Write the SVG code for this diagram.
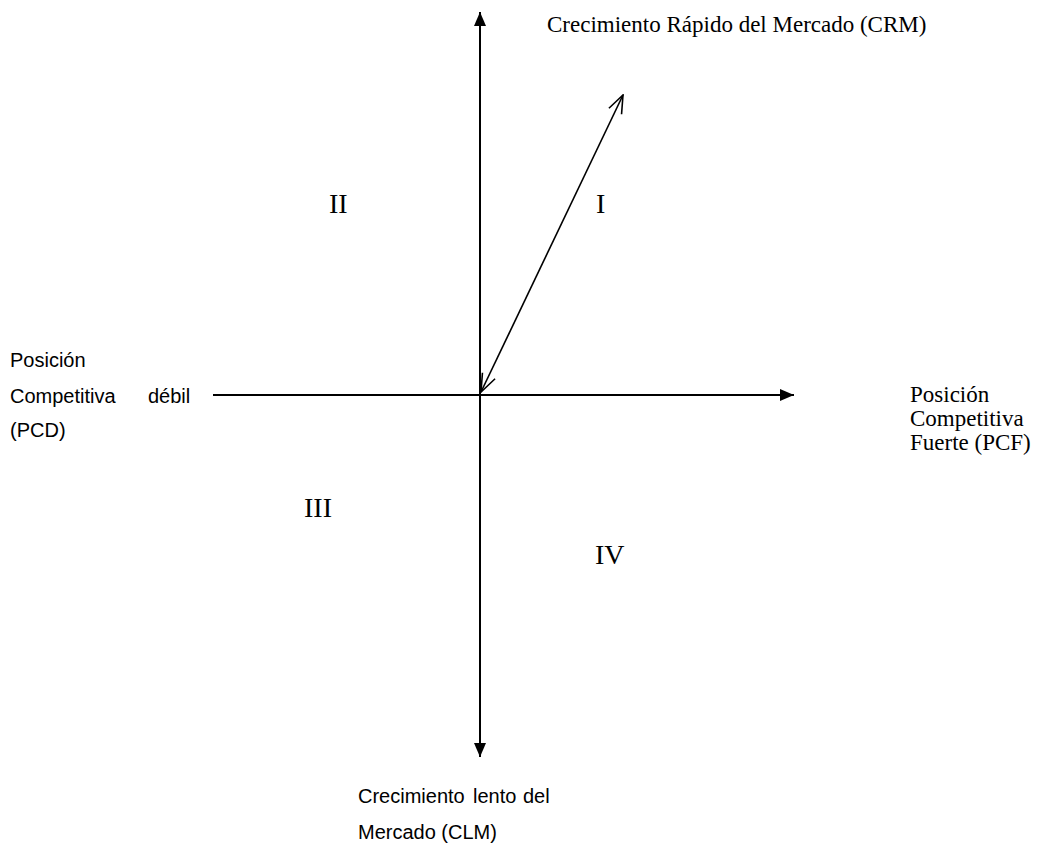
<svg xmlns="http://www.w3.org/2000/svg" width="1037" height="847" viewBox="0 0 1037 847">
<style>
.ax{stroke:#000;stroke-width:2;fill:none}
.dg{stroke:#000;stroke-width:1.6;fill:none}
.serif{font-family:"Liberation Serif","Times New Roman",serif;fill:#000}
.sans{font-family:"Liberation Sans",Arial,sans-serif;fill:#000;font-size:20px}
.num{font-size:28px}
.lab{font-size:23px}
</style>
<defs>
<marker id="solid" viewBox="0 0 14 12" refX="14" refY="6" markerWidth="14" markerHeight="12" markerUnits="userSpaceOnUse" orient="auto">
<path d="M0,0 L14,6 L0,12 Z" fill="#000"/>
</marker>
<marker id="open" viewBox="0 0 20 16" refX="19" refY="8" markerWidth="20" markerHeight="16" markerUnits="userSpaceOnUse" orient="auto-start-reverse">
<path d="M1,1 L19,8 L1,15" fill="none" stroke="#000" stroke-width="1.6"/>
</marker>
</defs>
<rect width="1037" height="847" fill="#fff"/>
<g id="connectors">
<line class="ax" x1="480" y1="395" x2="480" y2="12" marker-end="url(#solid)"/>
<line class="ax" x1="480" y1="395" x2="480" y2="757" marker-end="url(#solid)"/>
<line class="ax" x1="213" y1="395" x2="794" y2="395" marker-end="url(#solid)"/>
<line class="dg" x1="481" y1="392" x2="623" y2="95" marker-start="url(#open)" marker-end="url(#open)"/>
</g>
<g id="label-crm"><text class="serif lab" x="547" y="32">Crecimiento Rápido del Mercado (CRM)</text></g>
<g id="quad-II"><text class="serif num" x="329" y="213">II</text></g>
<g id="quad-I"><text class="serif num" x="596" y="213">I</text></g>
<g id="quad-III"><text class="serif num" x="304" y="517">III</text></g>
<g id="quad-IV"><text class="serif num" x="595" y="564">IV</text></g>
<g id="label-pcd">
<text class="sans" x="10" y="367">Posición</text>
<text class="sans" x="10" y="403">Competitiva</text>
<text class="sans" x="148" y="403">débil</text>
<text class="sans" x="10" y="437">(PCD)</text>
</g>
<g id="label-pcf">
<text class="serif lab" x="910" y="402">Posición</text>
<text class="serif lab" x="910" y="426">Competitiva</text>
<text class="serif lab" x="910" y="450">Fuerte (PCF)</text>
</g>
<g id="label-clm">
<text class="sans" x="358" y="803">Crecimiento</text>
<text class="sans" x="473" y="803">lento</text>
<text class="sans" x="523" y="803">del</text>
<text class="sans" x="358" y="839">Mercado (CLM)</text>
</g>
</svg>
